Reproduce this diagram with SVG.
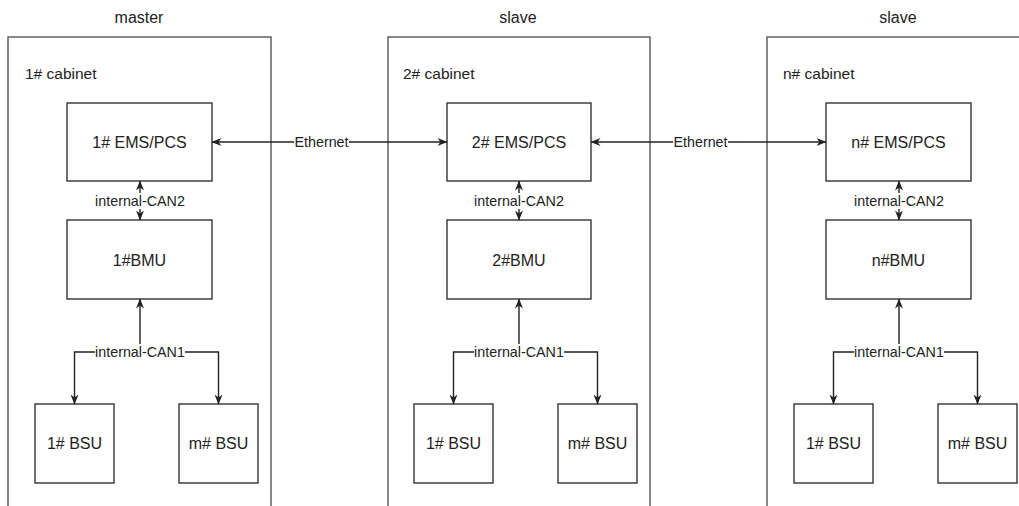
<svg xmlns="http://www.w3.org/2000/svg" width="1019" height="506" viewBox="0 0 1019 506">
<style>
text{font-family:"Liberation Sans",Arial,sans-serif;fill:#222;}
.t{font-size:16px;text-anchor:middle;dominant-baseline:central;}
.c{font-size:15.5px;dominant-baseline:central;}
.l{font-size:14.3px;text-anchor:middle;dominant-baseline:central;}
.cab{fill:#fff;stroke:#555;stroke-width:1.4;}
.n{fill:#fff;stroke:#333;stroke-width:1.4;}
.e{fill:none;stroke:#222;stroke-width:1.4;}
.bg{fill:#fff;}
</style>
<defs>
<marker id="arr" viewBox="0 0 10 10" refX="9.5" refY="5" markerWidth="10" markerHeight="10" markerUnits="userSpaceOnUse" orient="auto-start-reverse">
<path d="M0,1 L10,5 L0,9 L3,5 z" fill="#222"/>
</marker>
</defs>
<rect width="1019" height="506" fill="#fff"/>
<g id="cabinet1">
<text class="t" x="139" y="17">master</text>
<rect class="cab" x="8" y="37" width="263" height="500"/>
<text class="c" x="25" y="73">1# cabinet</text>
</g>
<g id="cabinet2">
<text class="t" x="518" y="17">slave</text>
<rect class="cab" x="388" y="37" width="262" height="500"/>
<text class="c" x="403" y="73">2# cabinet</text>
</g>
<g id="cabinet3">
<text class="t" x="898" y="17">slave</text>
<rect class="cab" x="767" y="37" width="300" height="500"/>
<text class="c" x="783" y="73">n# cabinet</text>
</g>
<g id="ems1"><rect class="n" x="67" y="103" width="145" height="78"/><text class="t" x="139.5" y="142">1# EMS/PCS</text></g>
<g id="bmu1"><rect class="n" x="67" y="220" width="145" height="79"/><text class="t" x="139.5" y="260">1#BMU</text></g>
<g id="bsu1a"><rect class="n" x="35" y="404" width="79" height="79"/><text class="t" x="74.5" y="443.5">1# BSU</text></g>
<g id="bsu1m"><rect class="n" x="179" y="404" width="79" height="79"/><text class="t" x="218.5" y="443.5">m# BSU</text></g>
<g id="ems2"><rect class="n" x="447" y="103" width="144" height="78"/><text class="t" x="519" y="142">2# EMS/PCS</text></g>
<g id="bmu2"><rect class="n" x="447" y="220" width="144" height="79"/><text class="t" x="519" y="260">2#BMU</text></g>
<g id="bsu2a"><rect class="n" x="414" y="404" width="79" height="79"/><text class="t" x="453.5" y="443.5">1# BSU</text></g>
<g id="bsu2m"><rect class="n" x="558" y="404" width="79" height="79"/><text class="t" x="597.5" y="443.5">m# BSU</text></g>
<g id="ems3"><rect class="n" x="826" y="103" width="145" height="78"/><text class="t" x="898.5" y="142">n# EMS/PCS</text></g>
<g id="bmu3"><rect class="n" x="826" y="220" width="145" height="79"/><text class="t" x="898.5" y="260">n#BMU</text></g>
<g id="bsu3a"><rect class="n" x="794" y="404" width="79" height="79"/><text class="t" x="833.5" y="443.5">1# BSU</text></g>
<g id="bsu3m"><rect class="n" x="938" y="404" width="79" height="79"/><text class="t" x="977.5" y="443.5">m# BSU</text></g>
<g id="connectors">
<path class="e" d="M212,142 H447" marker-start="url(#arr)" marker-end="url(#arr)"/>
<rect class="bg" x="294" y="134" width="55" height="16"/>
<text class="l" x="321.5" y="142">Ethernet</text>
<path class="e" d="M591,142 H826" marker-start="url(#arr)" marker-end="url(#arr)"/>
<rect class="bg" x="673" y="134" width="55" height="16"/>
<text class="l" x="700.5" y="142">Ethernet</text>

<path class="e" d="M140,181 V220" marker-start="url(#arr)" marker-end="url(#arr)"/>
<rect class="bg" x="95" y="193" width="90" height="16"/>
<text class="l" x="140" y="201">internal-CAN2</text>
<path class="e" d="M519,181 V220" marker-start="url(#arr)" marker-end="url(#arr)"/>
<rect class="bg" x="474" y="193" width="90" height="16"/>
<text class="l" x="519" y="201">internal-CAN2</text>
<path class="e" d="M899,181 V220" marker-start="url(#arr)" marker-end="url(#arr)"/>
<rect class="bg" x="854" y="193" width="90" height="16"/>
<text class="l" x="899" y="201">internal-CAN2</text>

<path class="e" d="M140,352 V299" marker-end="url(#arr)"/>
<path class="e" d="M140,352 H74.5 V404" marker-end="url(#arr)"/>
<path class="e" d="M140,352 H218.5 V404" marker-end="url(#arr)"/>
<rect class="bg" x="95" y="344" width="90" height="16"/>
<text class="l" x="140" y="352">internal-CAN1</text>

<path class="e" d="M519,352 V299" marker-end="url(#arr)"/>
<path class="e" d="M519,352 H453.5 V404" marker-end="url(#arr)"/>
<path class="e" d="M519,352 H597.5 V404" marker-end="url(#arr)"/>
<rect class="bg" x="474" y="344" width="90" height="16"/>
<text class="l" x="519" y="352">internal-CAN1</text>

<path class="e" d="M899,352 V299" marker-end="url(#arr)"/>
<path class="e" d="M899,352 H833.5 V404" marker-end="url(#arr)"/>
<path class="e" d="M899,352 H977.5 V404" marker-end="url(#arr)"/>
<rect class="bg" x="854" y="344" width="90" height="16"/>
<text class="l" x="899" y="352">internal-CAN1</text>
</g>
</svg>
